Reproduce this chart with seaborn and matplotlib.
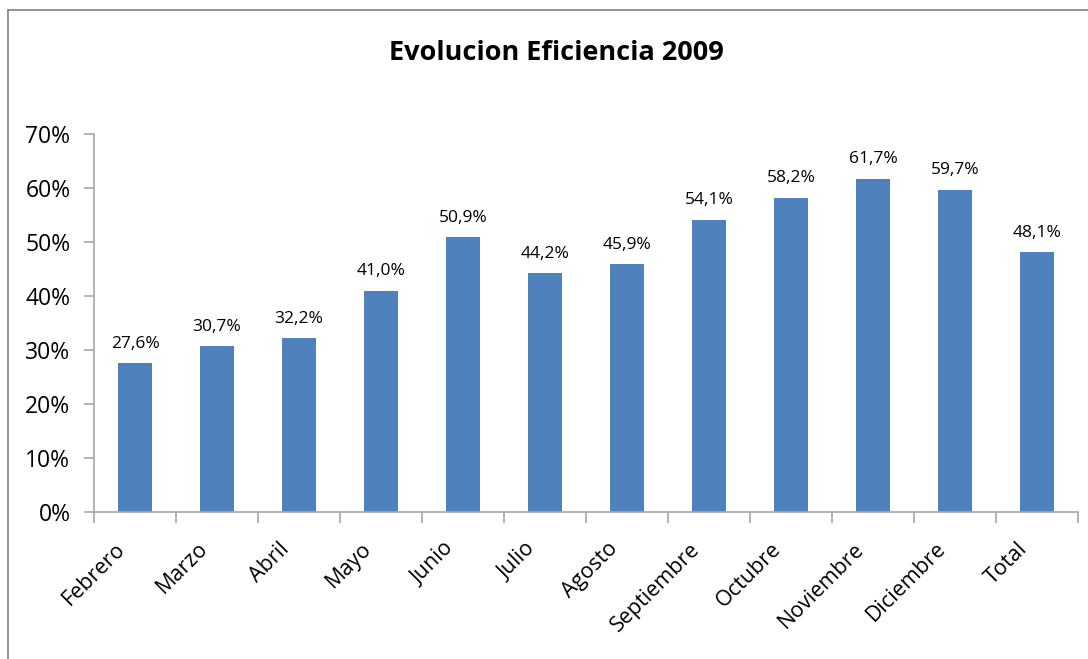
import pandas as pd
import matplotlib
matplotlib.use("Agg")
import matplotlib.pyplot as plt
import matplotlib.transforms as mtransforms
import seaborn as sns
from matplotlib.lines import Line2D

# data
meses = ['Febrero', 'Marzo', 'Abril', 'Mayo', 'Junio', 'Julio', 'Agosto',
         'Septiembre', 'Octubre', 'Noviembre', 'Diciembre', 'Total']
eficiencia = [27.6, 30.7, 32.2, 41.0, 50.9, 44.2, 45.9, 54.1, 58.2, 61.7, 59.7, 48.1]
y_ticks = [0, 10, 20, 30, 40, 50, 60, 70]

df = pd.DataFrame({'Mes': meses, 'Eficiencia': eficiencia})

sns.set_style('white')
plt.rcParams['font.family'] = ['Open Sans', 'DejaVu Sans']
plt.rcParams['text.color'] = 'black'
plt.rcParams['xtick.color'] = 'black'
plt.rcParams['ytick.color'] = 'black'

fig = plt.figure(figsize=(10.88, 6.59), dpi=100)
ax = fig.add_axes([0.0864, 0.2231, 0.9044, 0.5736])

sns.barplot(data=df, x='Mes', y='Eficiencia', color='#4F81BD', width=0.42,
            saturation=1, linewidth=0, ax=ax)

# data labels
for i, v in enumerate(eficiencia):
    ax.text(i, v + 2.1, f'{v:.1f}%'.replace('.', ','), ha='center', va='bottom',
            fontsize=12.5)

ax.set_xlim(-0.5, len(meses) - 0.5)
ax.set_ylim(0, 70)
ax.set_yticks(y_ticks)
ax.set_yticklabels([f'{t}%' for t in y_ticks], fontsize=16.5)
ax.set_xticks(range(len(meses)))
ax.set_xticklabels(meses, rotation=45, ha='right', rotation_mode='anchor', fontsize=15.5)
ax.set_xticks([i - 0.5 for i in range(len(meses) + 1)], minor=True)
ax.tick_params(axis='x', which='major', length=0, pad=19)
ax.tick_params(axis='x', which='minor', length=8, color='#A6A6A6', width=1.2, direction='out', bottom=True)
ax.tick_params(axis='y', length=7, color='#A6A6A6', width=1.2, direction='out', left=True, pad=10)
ax.set_xlabel('')
ax.set_ylabel('')

shift = mtransforms.ScaledTranslation(-0.2, 0, fig.dpi_scale_trans)
for lbl in ax.get_xticklabels():
    lbl.set_transform(lbl.get_transform() + shift)

for s in ['top', 'right']:
    ax.spines[s].set_visible(False)
for s in ['left', 'bottom']:
    ax.spines[s].set_color('#A6A6A6')
    ax.spines[s].set_linewidth(1.2)

fig.text(0.511, 1 - 53 / 659, 'Evolucion Eficiencia 2009', ha='center', va='center',
         fontsize=19.5, fontweight='bold')

# chart area frame (left and top edges visible in the reference)
fx = 8 / 1088
fy = 1 - 10 / 659
fig.add_artist(Line2D([fx, fx], [0, fy], color='#808080', lw=1.2, transform=fig.transFigure))
fig.add_artist(Line2D([fx, 1], [fy, fy], color='#808080', lw=1.2, transform=fig.transFigure))

fig.savefig('out.png', dpi=100)
